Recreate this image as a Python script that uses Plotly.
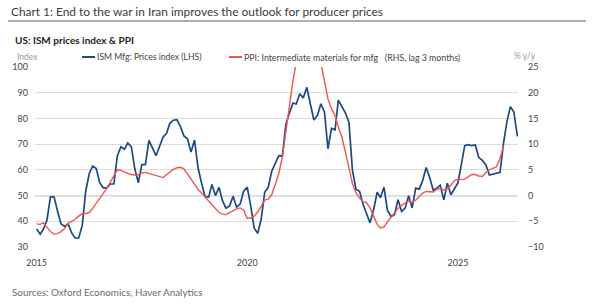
import pandas as pd
import plotly.graph_objects as go

# ---------------- data ----------------
ism_start = "2015-01-01"
ism_prices = [
    # 2015
    37.0, 35.0, 37.0, 40.5, 49.5, 49.5, 44.0, 39.0, 38.0, 39.0, 35.5, 33.5,
    # 2016
    33.5, 38.5, 51.5, 58.5, 61.5, 60.5, 55.0, 53.0, 53.0, 54.5, 54.5, 65.5,
    # 2017
    69.0, 68.0, 70.5, 69.0, 60.5, 55.0, 62.0, 62.0, 71.5, 68.5, 65.5, 69.0,
    # 2018
    72.7, 74.2, 78.1, 79.3, 79.5, 76.8, 73.2, 72.1, 66.9, 71.6, 60.7, 54.9,
    # 2019
    49.6, 49.4, 54.3, 50.0, 53.2, 47.9, 45.1, 46.0, 49.7, 45.5, 46.7, 51.7,
    # 2020
    53.3, 45.9, 37.4, 35.3, 40.8, 51.3, 53.2, 59.5, 62.8, 65.5, 65.4, 77.6,
    # 2021
    82.1, 86.0, 85.6, 89.6, 88.0, 92.1, 85.7, 79.4, 81.2, 85.7, 82.4, 68.2,
    # 2022
    76.1, 75.6, 87.1, 84.6, 82.2, 78.5, 60.0, 52.5, 51.7, 46.6, 43.0, 39.4,
    # 2023
    44.5, 51.3, 49.2, 53.2, 44.2, 41.8, 42.6, 48.4, 43.8, 45.1, 49.9, 45.2,
    # 2024
    52.9, 52.5, 55.8, 60.9, 57.0, 52.1, 52.9, 54.0, 48.3, 54.8, 50.3, 52.5,
    # 2025
    54.9, 62.4, 69.4, 69.8, 69.4, 69.7, 64.8, 63.7, 61.9, 58.0, 58.4, 58.5,
    # 2026
    59.0, 70.5, 78.5, 84.6, 82.5, 73.0,
]

ppi_start = "2015-01-01"   # already shifted forward by 3 months
ppi_yoy = [
    # 2015
    -5.5, -5.6, -5.3, -6.1, -7.0, -7.5, -7.4, -7.0, -6.4, -5.4, -5.0, -4.6,
    # 2016
    -4.0, -3.5, -3.5, -3.3, -2.5, -1.5, -0.6, 0.3, 1.4, 2.6, 3.8, 5.0,
    # 2017
    4.9, 4.5, 4.3, 4.1, 4.0, 4.1, 4.4, 4.5, 4.3, 4.1, 3.9, 3.7,
    # 2018
    3.5, 4.1, 4.6, 5.1, 5.4, 5.5, 5.2, 4.2, 3.1, 2.1, 1.2, 0.5,
    # 2019
    -0.3, -1.1, -1.8, -2.5, -3.3, -3.6, -3.7, -3.3, -2.9, -2.6, -2.4, -2.8,
    # 2020
    -4.4, -4.4, -4.0, -3.2, -2.1, -0.9, -0.7, 0.2, 2.2, 4.3, 7.5, 11.9,
    # 2021
    17.4, 22.4, 26.5, 29.5, 31.5, 32.5, 32.0, 30.5, 28.5, 25.8, 22.5, 18.8,
    # 2022
    16.9, 15.5, 13.4, 11.4, 8.5, 5.2, 2.4, 0.5, -0.5, -1.2, -1.4, -2.4,
    # 2023
    -4.0, -5.6, -6.3, -6.1, -5.1, -4.2, -3.3, -2.5, -1.9, -1.4, -1.1, -1.3,
    # 2024
    -0.9, -0.1, 0.5, 0.8, 0.75, 0.7, 1.2, 1.4, 1.1, 1.3, 2.0, 2.9,
    # 2025
    3.2, 3.1, 3.2, 3.6, 4.1, 4.1, 3.8, 3.7, 4.5, 5.0, 5.3, 5.6,
    # 2026
    7.2, 9.6,
]

left_ticks = [30, 40, 50, 60, 70, 80, 90, 100]
right_ticks = [-10, -5, 0, 5, 10, 15, 20, 25]
year_ticks = ["2015", "2020", "2025"]

ism_dates = pd.date_range(ism_start, periods=len(ism_prices), freq="MS")
ppi_dates = pd.date_range(ppi_start, periods=len(ppi_yoy), freq="MS")

# ---------------- styling ----------------
W, H = 600, 306
ML, MR, MT, MB = 35, 82, 67, 59
PW, PH = W - ML - MR, H - MT - MB
FONT = "Lato, 'Open Sans', sans-serif"
BLUE = "#1d4a80"
RED = "#f2554b"
GRID = "#dcdcdc"
TXT = "#444444"
GREY = "#9a9a9a"


def px(x):
    return (x - ML) / PW


def py(y):
    return (H - MB - y) / PH


fig = go.Figure()
fig.add_trace(go.Scatter(x=ppi_dates, y=ppi_yoy, yaxis="y2", mode="lines",
                         line=dict(color=RED, width=1.4),
                         name="PPI: Intermediate materials for mfg  (RHS, lag 3 months)"))
fig.add_trace(go.Scatter(x=ism_dates, y=ism_prices, mode="lines",
                         line=dict(color=BLUE, width=1.7),
                         name="ISM Mfg: Prices index (LHS)"))

fig.update_layout(
    width=W, height=H,
    margin=dict(l=ML, r=MR, t=MT, b=MB, pad=0),
    paper_bgcolor="white", plot_bgcolor="white",
    showlegend=False,
    font=dict(family=FONT, size=9, color=TXT),
    xaxis=dict(
        type="date",
        range=["2014-12-18", "2026-06-06"],
        tickvals=[f"{y}-01-01" for y in year_ticks],
        ticktext=year_ticks,
        showgrid=False, zeroline=False, showline=False, ticks="",
        tickfont=dict(size=9, color=TXT),
        ticklabelstandoff=9,
    ),
    yaxis=dict(
        range=[30, 100], tickvals=left_ticks,
        showgrid=True, gridcolor=GRID, gridwidth=1,
        zeroline=False, showline=False, ticks="",
        tickfont=dict(size=9, color=TXT),
        ticklabelstandoff=6,
    ),
    yaxis2=dict(
        range=[-10, 25], tickvals=right_ticks,
        overlaying="y", side="right",
        showgrid=False, zeroline=False, showline=False, ticks="",
        tickfont=dict(size=9, color=TXT),
        ticklabelstandoff=9,
    ),
)

# darker reference line at 50 (LHS) / 0 (RHS)
fig.add_shape(type="line", xref="paper", yref="y", x0=0, x1=1, y0=50, y1=50,
              line=dict(color="#8795a3", width=1.2), layer="below")

# title + rule
fig.add_annotation(xref="paper", yref="paper", x=px(9), y=py(12), xanchor="left", yanchor="middle",
                   text="Chart 1: End to the war in Iran improves the outlook for producer prices",
                   showarrow=False, font=dict(size=11.9, color="#3a3a3a", family=FONT))
fig.add_shape(type="line", xref="paper", yref="paper", x0=px(8), x1=px(586), y0=py(21), y1=py(21),
              line=dict(color="#8a99a8", width=1.6))
fig.add_annotation(xref="paper", yref="paper", x=px(13), y=py(40), xanchor="left", yanchor="middle",
                   text="<b>US: ISM prices index & PPI</b>",
                   showarrow=False, font=dict(size=10, color="#222222", family=FONT))

# axis unit labels
fig.add_annotation(xref="paper", yref="paper", x=px(15), y=py(57), xanchor="left", yanchor="middle",
                   text="Index", showarrow=False, font=dict(size=8.5, color=GREY))
fig.add_annotation(xref="paper", yref="paper", x=px(538), y=py(56), xanchor="right", yanchor="middle",
                   text="% y/y", showarrow=False, font=dict(size=8.5, color=GREY))

# legend (manual)
fig.add_shape(type="line", xref="paper", yref="paper", x0=px(82), x1=px(95), y0=py(57), y1=py(57),
              line=dict(color=BLUE, width=2))
fig.add_annotation(xref="paper", yref="paper", x=px(95), y=py(57), xanchor="left", yanchor="middle",
                   text="ISM Mfg: Prices index (LHS)", showarrow=False,
                   font=dict(size=8.6, color=TXT))
fig.add_shape(type="line", xref="paper", yref="paper", x0=px(229), x1=px(242), y0=py(57), y1=py(57),
              line=dict(color=RED, width=2))
fig.add_annotation(xref="paper", yref="paper", x=px(242), y=py(57), xanchor="left", yanchor="middle",
                   text="PPI: Intermediate materials for mfg&nbsp;&nbsp;&nbsp;(RHS, lag 3 months)", showarrow=False,
                   font=dict(size=8.8, color=TXT))

# sources
fig.add_annotation(xref="paper", yref="paper", x=px(10), y=py(292), xanchor="left", yanchor="middle",
                   text="Sources: Oxford Economics, Haver Analytics", showarrow=False,
                   font=dict(size=9.9, color="#6a6a6a"))

fig.write_html("out.html")
